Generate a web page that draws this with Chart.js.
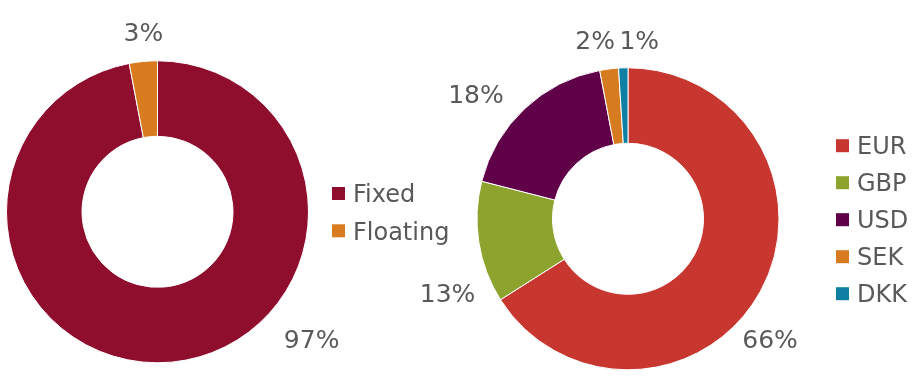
<!DOCTYPE html>
<html>
<head>
<meta charset="utf-8">
<script src="https://cdn.jsdelivr.net/npm/chart.js@4.4.1/dist/chart.umd.min.js"></script>
<style>
    html, body { margin: 0; padding: 0; background: #fff; }
    body { width: 920px; height: 381px; position: relative; overflow: hidden; }
    canvas { position: absolute; top: 0; }
    #rateChart { left: 0; }
    #currencyChart { left: 380px; }
</style>
</head>
<body>
<canvas id="rateChart" width="460" height="381"></canvas>
<canvas id="currencyChart" width="540" height="381"></canvas>
<script>
// data (shares in %)
const rateLabels = ['Fixed', 'Floating'];
const rateShares = [97, 3];

const currencyLabels = ['EUR', 'GBP', 'USD', 'SEK', 'DKK'];
const currencyShares = [66, 13, 18, 2, 1];

// colours
const rateColors = ['#8f0d2d', '#d97b1f'];
const currencyColors = ['#c8372f', '#8ca32e', '#5f0048', '#d67b1f', '#0f80a3'];

const TEXT_COLOR = '#595959';
const FONT = '"DejaVu Sans", Verdana, sans-serif';

// draws the % labels outside the ring, placed from each arc's mid angle
const outsideLabels = {
    id: 'outsideLabels',
    afterDatasetsDraw(chart, args, opts) {
        const ctx = chart.ctx;
        const meta = chart.getDatasetMeta(0);
        const values = chart.data.datasets[0].data;
        ctx.save();
        ctx.fillStyle = TEXT_COLOR;
        ctx.font = opts.size + 'px ' + FONT;
        ctx.textAlign = 'center';
        ctx.textBaseline = 'alphabetic';
        meta.data.forEach((arc, i) => {
            const p = arc.getProps(['x', 'y', 'startAngle', 'endAngle', 'outerRadius']);
            const place = opts.place[i] || {};
            const a = (p.startAngle + p.endAngle) / 2 + (place.shift || 0) * Math.PI / 180;
            const r = p.outerRadius + (place.gap || 30);
            const cx = p.x + Math.cos(a) * r;
            const cy = p.y + Math.sin(a) * r;
            ctx.fillText(values[i] + '%', cx, cy + opts.size * 0.729 / 2);
        });
        ctx.restore();
    }
};

// simple legend with square swatches
const sideLegend = {
    id: 'sideLegend',
    afterDraw(chart, args, opts) {
        const ctx = chart.ctx;
        const ds = chart.data.datasets[0];
        ctx.save();
        ctx.font = opts.size + 'px ' + FONT;
        ctx.textBaseline = 'alphabetic';
        chart.data.labels.forEach((label, i) => {
            const y = opts.y + i * opts.gap;
            ctx.fillStyle = ds.backgroundColor[i];
            ctx.fillRect(opts.x, y - opts.box / 2, opts.box, opts.box);
            ctx.fillStyle = TEXT_COLOR;
            ctx.fillText(label, opts.textX, y + opts.size * 0.729 / 2);
        });
        ctx.restore();
    }
};

function makeDonut(id, labels, values, colors, padding, labelPlace, legendOpts) {
    return new Chart(id, {
        type: 'doughnut',
        data: {
            labels: labels,
            datasets: [{
                data: values,
                backgroundColor: colors,
                borderColor: '#ffffff',
                borderWidth: 1,
                hoverOffset: 0
            }]
        },
        options: {
            responsive: false,
            animation: false,
            devicePixelRatio: 1,
            radius: 151,
            cutout: '50%',
            layout: { padding: padding },
            plugins: {
                legend: { display: false },
                tooltip: { enabled: false },
                outsideLabels: { size: 25, place: labelPlace },
                sideLegend: legendOpts
            }
        },
        plugins: [outsideLabels, sideLegend]
    });
}

makeDonut('rateChart', rateLabels, rateShares, rateColors,
    { left: 0, right: 145, top: 42.6, bottom: 0 },
    [ { shift: -45, gap: 49 }, { shift: 0.9, gap: 29 } ],
    { x: 332, y: 193.5, gap: 37.3, box: 13, textX: 353, size: 24 });

makeDonut('currencyChart', currencyLabels, currencyShares, currencyColors,
    { left: 80, right: 124, top: 56.6, bottom: 0 },
    [ { shift: 11.4, gap: 35 }, { shift: -13.3, gap: 44 }, { shift: -7.3, gap: 46 },
      { shift: -3.2, gap: 31 }, { shift: 5.4, gap: 28 } ],
    { x: 456, y: 145.7, gap: 37, box: 13, textX: 477, size: 24 });
</script>
</body>
</html>
